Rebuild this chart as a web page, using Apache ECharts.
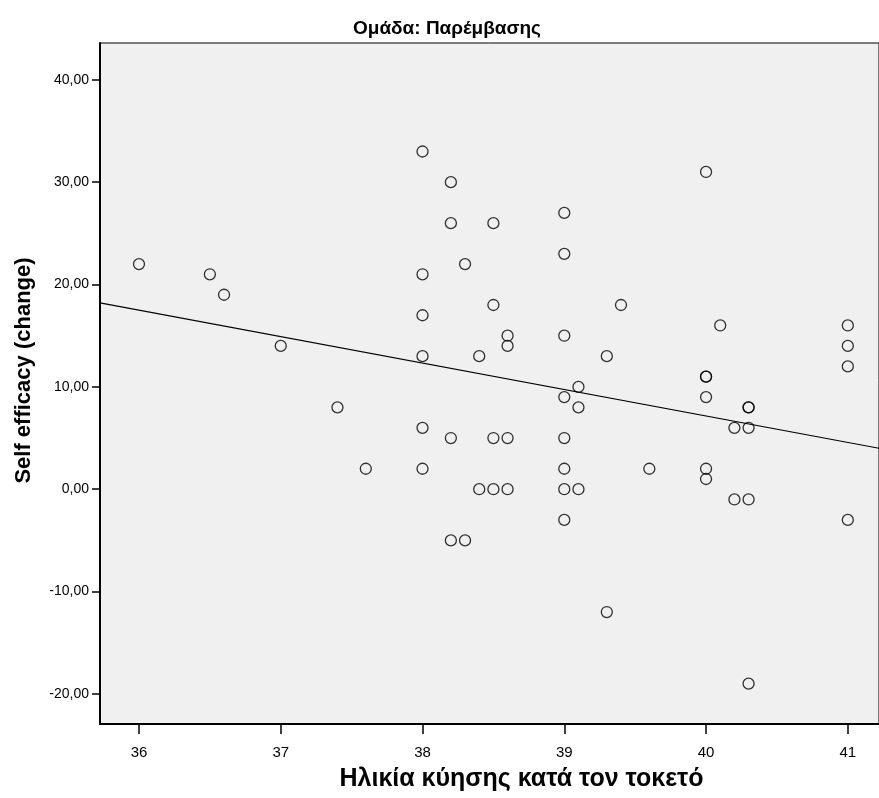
<!DOCTYPE html>
<html><head><meta charset="utf-8">
<script src="https://cdn.jsdelivr.net/npm/echarts@6/dist/echarts.min.js"></script>
<style>html,body{margin:0;padding:0;background:#fff}#c{width:879px;height:798px}</style>
</head><body><div id="c"></div>
<script>
// Gestational age at delivery (weeks)
var ageX = [36,36.5,36.6,37,37.4,37.6,
  38,38,38,38,38,38,
  38.2,38.2,38.2,38.2,38.3,38.3,38.4,38.4,
  38.5,38.5,38.5,38.5,38.6,38.6,38.6,38.6,
  39,39,39,39,39,39,39,39,
  39.1,39.1,39.1,39.3,39.3,39.4,39.6,
  40,40,40,40,40,40,40.1,
  40.2,40.2,40.3,40.3,40.3,40.3,40.3,
  41,41,41,41];
// Self efficacy change
var effY = [22,21,19,14,8,2,
  33,21,17,13,6,2,
  30,26,5,-5,22,-5,13,0,
  26,18,5,0,15,14,5,0,
  27,23,15,9,5,2,0,-3,
  10,8,0,13,-12,18,2,
  31,11,11,9,2,1,16,
  6,-1,8,8,6,-1,-19,
  16,14,12,-3];
// Fit line end points
var fitX = [35.725, 41.22];
var fitY = [18.2, 4.0];
var xTicks = [36,37,38,39,40,41];
var yTicks = [-20,-10,0,10,20,30,40];

var pts = ageX.map(function(x,i){return [x, effY[i]];});
var fit = fitX.map(function(x,i){return [x, fitY[i]];});
var F = "'Liberation Sans',Arial,sans-serif";
var chart = echarts.init(document.getElementById('c'), null, {renderer:'canvas'});
chart.setOption({
  animation:false,
  backgroundColor:'#fff',
  title:{text:'Ομάδα: Παρέμβασης', left:442, textAlign:'center', top:14,
    textStyle:{fontFamily:F, fontWeight:'bold', fontSize:19, color:'#000'}},
  grid:{left:100, top:43, right:0, bottom:74, outerBoundsMode:'none', containLabel:false,
    show:true, backgroundColor:'#f0f0f0', borderColor:'#000', borderWidth:1},
  xAxis:{type:'value', min:35.725, max:41.22,
    name:'Ηλικία κύησης κατά τον τοκετό', nameLocation:'middle', nameGap:43,
    nameTextStyle:{fontFamily:F, fontWeight:'bold', fontSize:25, color:'#000', padding:[0,0,0,64]},
    axisLine:{show:true, onZero:false, lineStyle:{color:'#000', width:2}},
    axisTick:{show:true, inside:false, customValues:xTicks, length:10, lineStyle:{color:'#000', width:1.5}},
    axisLabel:{customValues:xTicks, fontFamily:F, fontSize:15, color:'#000', margin:21},
    splitLine:{show:false}},
  yAxis:{type:'value', min:-22.94, max:43.6,
    name:'Self efficacy (change)', nameLocation:'middle', nameGap:65, nameRotate:90,
    nameTextStyle:{fontFamily:F, fontWeight:'bold', fontSize:22, color:'#000', padding:[0,0,0,26]},
    axisLine:{show:true, onZero:false, lineStyle:{color:'#000', width:2}},
    axisTick:{show:true, inside:false, customValues:yTicks, length:8, lineStyle:{color:'#000', width:1.5}},
    axisLabel:{customValues:yTicks, fontFamily:F, fontSize:14, color:'#000', margin:11,
      formatter:function(v){return v.toFixed(2).replace('.',',');}},
    splitLine:{show:false}},
  series:[
    {type:'line', data:fit, symbol:'none', lineStyle:{color:'#000', width:1.2}, z:2},
    {type:'scatter', data:pts, symbol:'circle', symbolSize:11,
      itemStyle:{color:'rgba(0,0,0,0)', borderColor:'#000', borderWidth:1.3}, z:3}
  ]
});
</script></body></html>
